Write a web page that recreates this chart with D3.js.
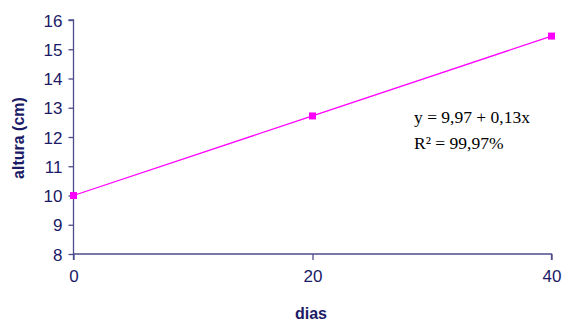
<!DOCTYPE html>
<html><head><meta charset="utf-8">
<script src="https://cdn.jsdelivr.net/npm/d3@7"></script>
<style>body{margin:0;background:#fff}svg{display:block}</style>
</head><body>
<svg id="c" width="567" height="322"></svg>
<script>
const days = [0, 20, 40];
const heights = [10, 12.72, 15.45];
const yTicks = [8, 9, 10, 11, 12, 13, 14, 15, 16];
const xTicks = [0, 20, 40];
const equationLines = ["y = 9,97 + 0,13x", "R² = 99,97%"];
const xTitle = "dias";
const yTitle = "altura (cm)";

const svg = d3.select("#c");
const axisColor = "#4d4d8c";
const textColor = "#1a1a66";
const lineColor = "#ff00ff";
const x = d3.scaleLinear().domain([0, 40]).range([73.5, 551.5]);
const y = d3.scaleLinear().domain([8, 16]).range([254, 20]);

// Y axis
const ya = svg.append("g").attr("transform", "translate(73.5,0)")
  .call(d3.axisLeft(y).tickValues(yTicks).tickSize(5).tickPadding(6).tickFormat(d3.format("d")));
ya.select(".domain").attr("stroke", axisColor).attr("stroke-width", 1.3).attr("d", `M-5,${y(16)}H0V${y(8)}`);
ya.selectAll(".tick line").attr("stroke", axisColor).attr("stroke-width", 1.3);
ya.selectAll(".tick text").attr("fill", textColor).style("font-family", "Liberation Sans, Arial, sans-serif").style("font-size", "17px").attr("dy", "0.36em");

// X axis
const xa = svg.append("g").attr("transform", "translate(0,254)")
  .call(d3.axisBottom(x).tickValues(xTicks).tickSize(6).tickPadding(10).tickFormat(d3.format("d")));
xa.select(".domain").attr("stroke", axisColor).attr("stroke-width", 1.3).attr("d", `M${x(0)},6V0H${x(40)}V6`);
xa.selectAll(".tick line").attr("stroke", axisColor).attr("stroke-width", 1.3);
xa.selectAll(".tick text").attr("fill", textColor).style("font-family", "Liberation Sans, Arial, sans-serif").style("font-size", "17px");

// Line
const pts = days.map((d, i) => [d, heights[i]]);
svg.append("path").datum(pts)
  .attr("fill", "none").attr("stroke", lineColor).attr("stroke-width", 1.3)
  .attr("d", d3.line().x(d => x(d[0])).y(d => y(d[1])));
svg.selectAll("rect.m").data(pts).enter().append("rect").attr("class", "m")
  .attr("x", d => x(d[0]) - 3.5).attr("y", d => y(d[1]) - 3.5)
  .attr("width", 7).attr("height", 7).attr("fill", lineColor);

// Titles
svg.append("text").attr("x", 311).attr("y", 319).attr("text-anchor", "middle")
  .attr("fill", textColor).style("font-family", "Liberation Sans, Arial, sans-serif")
  .style("font-size", "16px").style("font-weight", "bold").text(xTitle);
svg.append("text").attr("transform", "translate(24,138) rotate(-90)").attr("text-anchor", "middle")
  .attr("fill", textColor).style("font-family", "Liberation Sans, Arial, sans-serif")
  .style("font-size", "16px").style("font-weight", "bold").text(yTitle);

// Equation
svg.selectAll("text.eq").data(equationLines).enter().append("text").attr("class", "eq")
  .attr("x", 414).attr("y", (d, i) => 123 + i * 26)
  .attr("fill", "#000").style("font-family", "Liberation Serif, Times New Roman, serif")
  .style("font-size", "17.5px").text(d => d);
</script>
</body></html>
